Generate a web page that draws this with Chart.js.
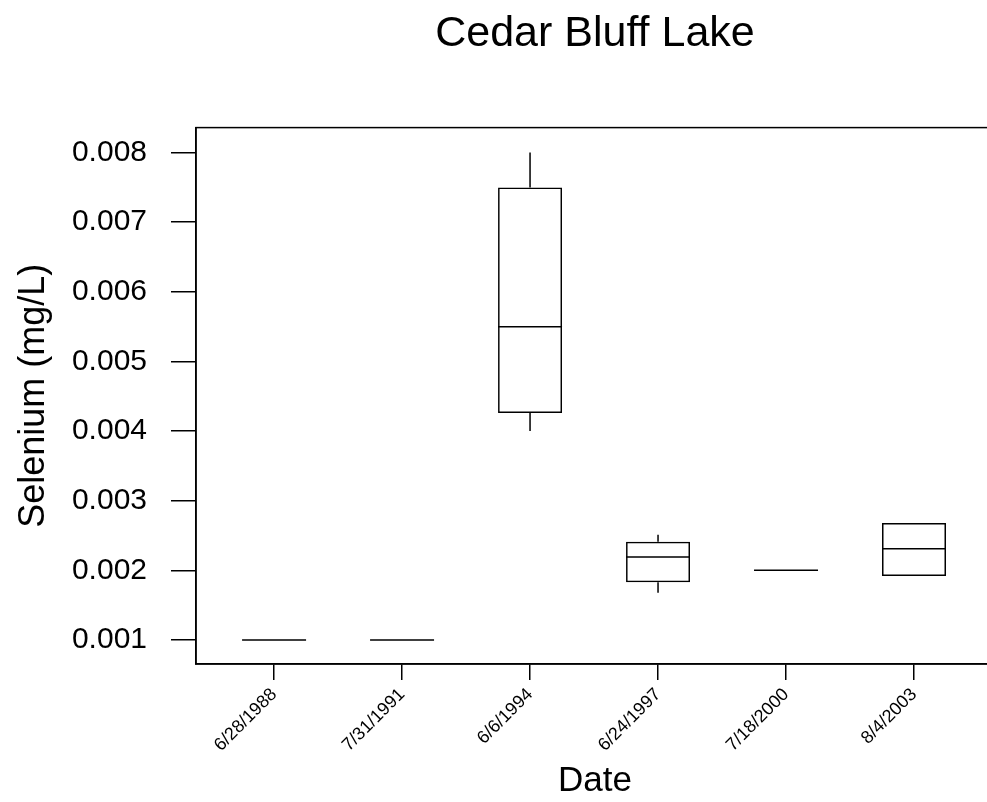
<!DOCTYPE html>
<html>
<head>
<meta charset="utf-8">
<script src="https://cdn.jsdelivr.net/npm/chart.js@4.4.0/dist/chart.umd.min.js"></script>
<style>
  html, body { margin: 0; padding: 0; background: #fff; overflow: hidden; }
  #wrap { width: 987px; height: 802px; overflow: hidden; }
</style>
</head>
<body>
<div id="wrap"><canvas id="chart" width="1000" height="802"></canvas></div>
<script>
const labels = ["6/28/1988", "7/31/1991", "6/6/1994", "6/24/1997", "7/18/2000", "8/4/2003"];
const mins    = [0.001, 0.001, 0.0040,  0.00168, 0.002, 0.00192];
const q1s     = [0.001, 0.001, 0.00426, 0.00183, 0.002, 0.00192];
const medians = [0.001, 0.001, 0.0055,  0.00219, 0.002, 0.00231];
const q3s     = [0.001, 0.001, 0.0075,  0.00241, 0.002, 0.00268];
const maxs    = [0.001, 0.001, 0.0080,  0.00251, 0.002, 0.00268];
const yTicks  = [0.001, 0.002, 0.003, 0.004, 0.005, 0.006, 0.007, 0.008];

const FONT = "'Liberation Sans', Arial, sans-serif";

// whiskers, medians and the frame, drawn through the chart scales
const boxExtras = {
  id: "boxExtras",
  afterDatasetsDraw(chart) {
    const { ctx, chartArea } = chart;
    const x = chart.scales.x;
    const y = chart.scales.y;
    const meta = chart.getDatasetMeta(0);
    ctx.save();
    ctx.strokeStyle = "#000";
    ctx.lineWidth = 1.5;
    labels.forEach((l, i) => {
      const cx = x.getPixelForValue(i);
      const half = meta.data[i].width / 2;
      ctx.beginPath();
      ctx.moveTo(cx - half, y.getPixelForValue(medians[i]));
      ctx.lineTo(cx + half, y.getPixelForValue(medians[i]));
      if (maxs[i] > q3s[i]) {
        ctx.moveTo(cx, y.getPixelForValue(q3s[i]));
        ctx.lineTo(cx, y.getPixelForValue(maxs[i]));
      }
      if (mins[i] < q1s[i]) {
        ctx.moveTo(cx, y.getPixelForValue(q1s[i]));
        ctx.lineTo(cx, y.getPixelForValue(mins[i]));
      }
      ctx.stroke();
    });
    ctx.strokeRect(chartArea.left, chartArea.top, chartArea.right - chartArea.left, chartArea.bottom - chartArea.top);
    ctx.restore();
  }
};

const ctx = document.getElementById("chart").getContext("2d");
new Chart(ctx, {
  type: "bar",
  data: {
    datasets: [{
      label: "Selenium",
      data: labels.map((l, i) => ({ x: i, y: [q1s[i], q3s[i]] })),
      backgroundColor: "rgba(0,0,0,0)",
      borderColor: "#000",
      borderWidth: 1.5,
      borderSkipped: false,
      barPercentage: 0.5,
      categoryPercentage: 1.0
    }]
  },
  options: {
    responsive: false,
    animation: false,
    layout: { padding: { left: 0, right: 6, top: 0, bottom: 0 } },
    plugins: {
      legend: { display: false },
      tooltip: { enabled: false },
      title: {
        display: true,
        text: "Cedar Bluff Lake",
        fullSize: false,
        color: "#000",
        font: { family: FONT, size: 43, weight: "normal" },
        padding: { top: 8, bottom: 68 }
      }
    },
    scales: {
      x: {
        type: "linear",
        offset: false,
        min: -0.61,
        max: 5.625,
        afterBuildTicks: (scale) => { scale.ticks = labels.map((l, i) => ({ value: i })); },
        afterFit: (scale) => { scale.height = 138; },
        grid: { offset: false, drawOnChartArea: false, drawTicks: true, tickLength: 16, color: "#000", lineWidth: 1.5 },
        border: { display: true, color: "#000", width: 1.5 },
        ticks: {
          autoSkip: false,
          minRotation: 45,
          maxRotation: 45,
          padding: 4,
          color: "#000",
          font: { family: FONT, size: 18 },
          callback: (v) => labels[v]
        },
        title: {
          display: true,
          text: "Date",
          color: "#000",
          font: { family: FONT, size: 35 },
          padding: { top: 0, bottom: 0 }
        }
      },
      y: {
        min: 0.000655,
        max: 0.008359,
        afterBuildTicks: (scale) => { scale.ticks = yTicks.map(v => ({ value: v })); },
        afterFit: (scale) => { scale.width = 196; },
        grid: { drawOnChartArea: false, drawTicks: true, tickLength: 25, color: "#000", lineWidth: 1.5 },
        border: { display: true, color: "#000", width: 1.5 },
        ticks: {
          padding: 24,
          color: "#000",
          font: { family: FONT, size: 30 },
          callback: (v) => v.toFixed(3)
        },
        title: {
          display: true,
          text: "Selenium (mg/L)",
          color: "#000",
          font: { family: FONT, size: 36 },
          padding: { top: 12, bottom: 0 }
        }
      }
    }
  },
  plugins: [boxExtras]
});
</script>
</body>
</html>
